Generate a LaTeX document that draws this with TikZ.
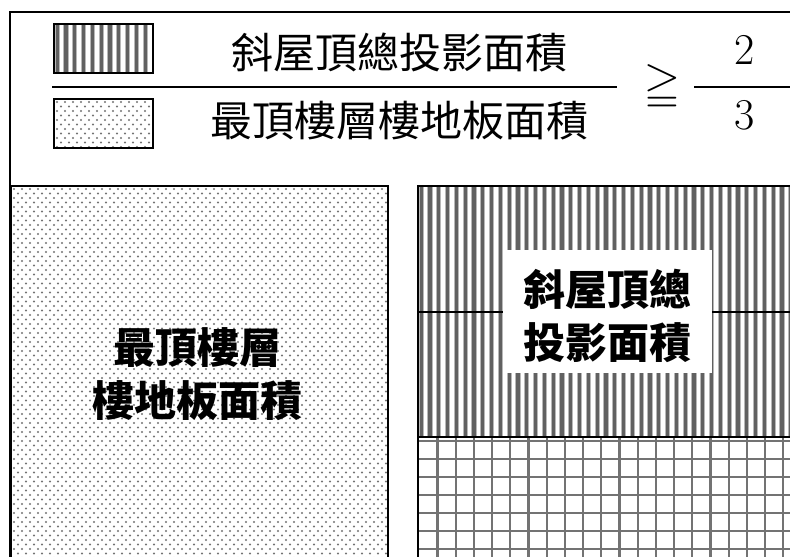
\documentclass[tikz,border=0pt]{standalone}
\usepackage{fontspec}
\newfontfamily\cjk{Noto Sans CJK TC}
\newfontfamily\lmmath{Latin Modern Math}

\begin{document}
\begin{tikzpicture}[x=1pt,y=-1pt,
	frame/.style={draw=black,line width=2.4pt},
	box/.style={draw=black,line width=1.6pt},
	stripelight/.style={fill=black!28},
	stripedark/.style={fill=black!62},
	dotfill/.style={fill=black!55},
	legendtext/.style={font=\cjk\fontsize{42}{50}\selectfont,inner sep=0pt},
	boxtext/.style={font=\cjk\bfseries\fontsize{42}{53}\selectfont,align=center,inner sep=0pt},
	gridline/.style={draw=black!55,line width=2.2pt}]

	    \fill[white] (0,0) rectangle (790,557);
	    \useasboundingbox (0,0) rectangle (790,557);
	    \clip (0,0) rectangle (790,557);

	    \draw[frame] (10,12) rectangle (800,570);

	    % legend and ratio
	    \foreach \x in {0,...,10} {
	        \fill[stripelight] ({54.5+8.8*\x},24) rectangle ++(5.2,49);
	        \fill[stripedark] ({55.5+8.8*\x},24) rectangle ++(3.2,49);
	    }
	    \draw[box] (54,24) rectangle (153,73);
	    \foreach \r in {0,...,10}
	        \foreach \c in {0,...,11}
	            \fill[dotfill] ({57+8*\c+4*mod(\r,2)},{102+4.5*\r}) circle (1.05);
	    \draw[box] (54,99) rectangle (153,148);
	    \node[legendtext] (roof) at (399,52) {斜屋頂總投影面積};
	    \node[legendtext] (floor) at (399,121) {最頂樓層樓地板面積};
	    \coordinate (barL) at (52,87);
	    \coordinate (barR) at (617,87);
	    \draw[line width=1.4pt] (barL) -- (barR);
	    \node[font=\lmmath\fontsize{46}{50}\selectfont,inner sep=0pt] (geq) at (662,86) {≧};
	    \node[font=\fontsize{44}{50}\selectfont,inner sep=0pt] (two) at (745,50) {2};
	    \node[font=\fontsize{44}{50}\selectfont,inner sep=0pt] (three) at (745,115) {3};
	    \coordinate (ratioL) at (694,87);
	    \coordinate (ratioR) at (800,87);
	    \draw[line width=1.4pt] (ratioL) -- (ratioR);

	    % top floor slab
	    \foreach \r in {0,...,82}
	        \foreach \c in {0,...,46}
	            \fill[dotfill] ({14+8*\c+4*mod(\r,2)},{189+4.5*\r}) circle (1.05);
	    \draw[box] (11,186) rectangle (388,570);
	    \node[boxtext] (floorlbl) at (197,374) {最頂樓層\\樓地板面積};

	    % sloped roof over flat roof
	    \foreach \x in {0,...,43} {
	        \fill[stripelight] ({418.5+8.8*\x},186) rectangle ++(5.2,251);
	        \fill[stripedark] ({419.5+8.8*\x},186) rectangle ++(3.2,251);
	    }
	    \foreach \x in {0,...,20}
	        \draw[gridline] ({437.5+18.2*\x},437) -- ++(0,140);
	    \foreach \y in {0,...,6}
	        \draw[gridline] (418,{441+18*\y}) -- ++(390,0);
	    \draw[line width=1.2pt] (418,312) -- (800,312);
	    \draw[line width=1.6pt] (418,437) -- (800,437);
	    \draw[box] (418,570) |- (800,186);
	    \node[fill=white,minimum width=209pt,minimum height=123pt,inner sep=0pt] (whitebox) at (607.5,311.5) {};
	    \node[boxtext] (rooflbl) at (607.5,316) {斜屋頂總\\投影面積};

\end{tikzpicture}
\end{document}
